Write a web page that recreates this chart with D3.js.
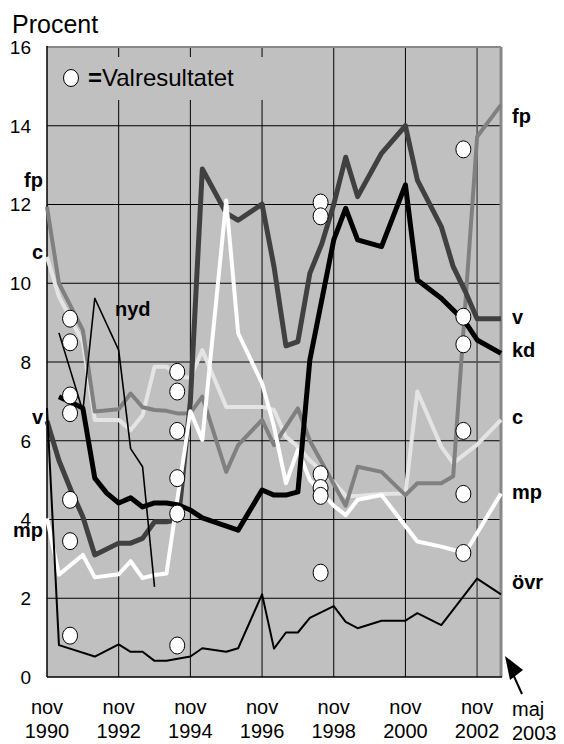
<!DOCTYPE html>
<html>
<head>
<meta charset="utf-8">
<script src="https://cdn.jsdelivr.net/npm/d3@7"></script>
<style>
  body { margin: 0; background: #fff; }
  svg { display: block; font-family: "Liberation Sans", Arial, Helvetica, sans-serif; }
</style>
</head>
<body>
<div id="chart"></div>
<script>
// Mätningar ungefär var fjärde månad, index 0 = nov 1990, index 38 = maj 2003
const xTickIndex = [0, 6, 12, 18, 24, 30, 36];
const xTickYears = ["1990", "1992", "1994", "1996", "1998", "2000", "2002"];
const yTicks = [0, 2, 4, 6, 8, 10, 12, 14, 16];

// Opinionssiffror per mätning (null = ingen brytpunkt i diagrammet)
const fp = [11.94, 10.0, null, 8.81, 6.74, null, 6.8, 7.2, 6.85, 6.78, 6.76, 6.69, 6.7,
  7.12, null, 5.21, 5.89, null, 6.53, 5.89, null, 6.82, 6.0, null, 4.9, 4.35, 5.34,
  null, 5.21, null, 4.62, 4.92, null, 4.92, 5.1, null, 13.72, null, 14.53];
const c = [10.67, 9.66, null, 8.5, 6.53, null, 6.53, 6.27, 6.65, 7.88, 7.88, 7.63, 7.6,
  8.3, null, 6.86, null, null, 6.86, 6.78, 6.1, 5.85, 5.5, null, 4.95, 4.6, 4.6,
  null, 4.65, null, 4.66, 7.25, null, 5.85, 5.43, null, 5.9, null, 6.53];
const mp = [4.03, 2.6, null, 3.1, 2.53, null, 2.61, 2.94, 2.51, 2.59, 2.63, null, 6.75,
  6.02, null, 12.1, 8.73, null, 7.46, 6.36, 4.92, 5.77, 5.0, null, 4.35, 4.11, 4.5,
  null, 4.62, null, null, 3.44, null, 3.31, null, 3.15, null, null, 4.66];
const v = [6.5, 5.5, 4.75, 4.07, 3.1, null, 3.4, 3.4, 3.52, 3.94, 3.94, 4.0, 7.0,
  12.9, null, 11.78, 11.6, null, 12.01, 10.42, 8.41, 8.52, 10.25, 11.0, 12.0, 13.2, 12.2,
  null, 13.3, null, 14.0, 12.62, null, 11.44, 10.42, 9.8, 9.1, null, 9.1];
const kd = [null, 7.12, null, 6.83, 5.05, 4.67, 4.42, 4.55, 4.32, 4.42, 4.42, 4.37, 4.24,
  4.04, null, null, 3.73, null, 4.75, 4.62, 4.62, 4.7, 8.05, null, 11.1, 11.9, 11.1,
  null, 10.93, null, 12.5, 10.08, null, 9.62, null, 9.02, 8.56, null, 8.22];
const nyd = [null, 8.74, null, 6.75, 9.62, null, 8.3, 5.8, 5.34, 2.29];
const ovr = [6.83, 0.81, null, null, 0.52, null, 0.83, 0.64, 0.64, 0.41, 0.41, null, 0.52,
  0.73, null, 0.64, 0.73, null, 2.1, 0.72, 1.13, 1.13, 1.5, null, 1.8, 1.4, 1.24,
  null, 1.43, null, 1.43, 1.62, null, 1.32, null, null, 2.5, null, 2.1];

// Valresultat (cirklar): läge på tidsaxeln och värden
const valIndex = [1.93, 10.9, 22.9, 34.85];
const valResultat = [
  [9.1, 8.5, 7.15, 6.7, 4.5, 3.45, 1.05],
  [7.75, 7.25, 6.25, 5.05, 4.15, 0.8],
  [12.05, 11.7, 5.15, 4.8, 4.6, 2.65],
  [13.4, 9.15, 8.45, 6.25, 4.65, 3.15],
];

const WIDTH = 564;
const HEIGHT = 744;
const margin = { top: 47, right: 63, bottom: 67, left: 47 };
const plotW = WIDTH - margin.left - margin.right;
const plotH = HEIGHT - margin.top - margin.bottom;

const svg = d3
  .select("#chart")
  .append("svg")
  .attr("width", WIDTH)
  .attr("height", HEIGHT);

const x = d3.scaleLinear().domain([0, 38]).range([margin.left, margin.left + plotW]);
const y = d3.scaleLinear().domain([0, 16]).range([margin.top + plotH, margin.top]);

// Plot background
svg
  .append("rect")
  .attr("x", x(0))
  .attr("y", y(16))
  .attr("width", x(38) - x(0))
  .attr("height", y(0) - y(16))
  .attr("fill", "#c0c0c0");

// Horizontal gridlines
svg
  .selectAll(".hgrid")
  .data(yTicks.filter((d) => d > 0 && d < 16))
  .enter()
  .append("line")
  .attr("x1", x(0))
  .attr("x2", x(38))
  .attr("y1", (d) => y(d))
  .attr("y2", (d) => y(d))
  .attr("stroke", "#000")
  .attr("stroke-width", 1);

// Vertical gridlines (nov 2002 is a gray one)
svg
  .selectAll(".vgrid")
  .data(xTickIndex.filter((d) => d > 0))
  .enter()
  .append("line")
  .attr("x1", (d) => x(d))
  .attr("x2", (d) => x(d))
  .attr("y1", y(0))
  .attr("y2", y(16))
  .attr("stroke", (d) => (d === 36 ? "#555" : "#000"))
  .attr("stroke-width", (d) => (d === 36 ? 1.5 : 1));

// Legend box covers the gridlines
svg
  .append("rect")
  .attr("x", x(0) + 1)
  .attr("y", 57)
  .attr("width", 250)
  .attr("height", 43)
  .attr("fill", "#c0c0c0");

svg
  .append("ellipse")
  .attr("cx", 71)
  .attr("cy", 78)
  .attr("rx", 7.5)
  .attr("ry", 8.5)
  .attr("fill", "#fff")
  .attr("stroke", "#000")
  .attr("stroke-width", 1);

const legendText = svg
  .append("text")
  .attr("x", 88)
  .attr("y", 86)
  .attr("font-size", 24)
  .attr("fill", "#000");
legendText.append("tspan").attr("font-weight", "bold").text("=");
legendText.append("tspan").text("Valresultatet");

// Border: gray top/right, black left/bottom
svg
  .append("line")
  .attr("x1", x(0)).attr("x2", x(38))
  .attr("y1", y(16)).attr("y2", y(16))
  .attr("stroke", "#888").attr("stroke-width", 2);
svg
  .append("line")
  .attr("x1", x(38)).attr("x2", x(38))
  .attr("y1", y(16)).attr("y2", y(0))
  .attr("stroke", "#888").attr("stroke-width", 3);
svg
  .append("line")
  .attr("x1", x(0)).attr("x2", x(0))
  .attr("y1", y(16) - 1).attr("y2", y(0))
  .attr("stroke", "#000").attr("stroke-width", 1.5);
svg
  .append("line")
  .attr("x1", x(0)).attr("x2", x(38) + 1)
  .attr("y1", y(0)).attr("y2", y(0))
  .attr("stroke", "#000").attr("stroke-width", 1.5);

// Series lines
const series = [
  { values: c, color: "#e4e4e4", width: 4 },
  { values: fp, color: "#808080", width: 4 },
  { values: v, color: "#404040", width: 5 },
  { values: mp, color: "#ffffff", width: 4 },
  { values: kd, color: "#000000", width: 5 },
  { values: nyd, color: "#000000", width: 1.6 },
  { values: ovr, color: "#000000", width: 2 },
];

const line = d3
  .line()
  .x((d) => x(d.i))
  .y((d) => y(d.value));

series.forEach((s) => {
  const pts = s.values
    .map((value, i) => ({ i, value }))
    .filter((d) => d.value !== null);
  svg
    .append("path")
    .datum(pts)
    .attr("d", line)
    .attr("fill", "none")
    .attr("stroke", s.color)
    .attr("stroke-width", s.width)
    .attr("stroke-linejoin", "round");
});

// Election result circles
valIndex.forEach((pos, k) => {
  svg
    .selectAll(".val" + k)
    .data(valResultat[k])
    .enter()
    .append("ellipse")
    .attr("cx", x(pos))
    .attr("cy", (d) => y(d))
    .attr("rx", 7.5)
    .attr("ry", 8.5)
    .attr("fill", "#fff")
    .attr("stroke", "#000")
    .attr("stroke-width", 1);
});

// Y tick labels
svg
  .selectAll(".ylab")
  .data(yTicks)
  .enter()
  .append("text")
  .attr("x", 31)
  .attr("y", (d) => y(d))
  .attr("dy", "0.36em")
  .attr("text-anchor", "end")
  .attr("font-size", 19)
  .text((d) => d);

svg
  .append("text")
  .attr("x", 12)
  .attr("y", 33)
  .attr("font-size", 25)
  .text("Procent");

// X tick labels
xTickIndex.forEach((d, k) => {
  svg.append("text").attr("x", x(d)).attr("y", 714).attr("text-anchor", "middle")
    .attr("font-size", 20).text("nov");
  svg.append("text").attr("x", x(d)).attr("y", 738).attr("text-anchor", "middle")
    .attr("font-size", 20).text(xTickYears[k]);
});
svg.append("text").attr("x", 512).attr("y", 716).attr("font-size", 20).text("maj");
svg.append("text").attr("x", 512).attr("y", 740).attr("font-size", 20).text("2003");

// Arrow pointing at maj 2003
svg
  .append("line")
  .attr("x1", 522).attr("y1", 694)
  .attr("x2", 512).attr("y2", 672)
  .attr("stroke", "#000").attr("stroke-width", 2);
svg
  .append("path")
  .attr("d", "M505,656 L523,670 L510,680 Z")
  .attr("fill", "#000");

// Party labels
const labelsRight = [
  ["fp", 14.25], ["v", 9.15], ["kd", 8.3], ["c", 6.61], ["mp", 4.71], ["övr", 2.42],
];
const labelsLeft = [["fp", 12.62], ["c", 10.8], ["v", 6.61], ["mp", 3.73]];

svg
  .selectAll(".lr")
  .data(labelsRight)
  .enter()
  .append("text")
  .attr("x", 512)
  .attr("y", (d) => y(d[1]))
  .attr("dy", "0.35em")
  .attr("font-size", 20)
  .attr("font-weight", "bold")
  .text((d) => d[0]);

svg
  .selectAll(".ll")
  .data(labelsLeft)
  .enter()
  .append("text")
  .attr("x", 43)
  .attr("y", (d) => y(d[1]))
  .attr("dy", "0.35em")
  .attr("text-anchor", "end")
  .attr("font-size", 20)
  .attr("font-weight", "bold")
  .text((d) => d[0]);

svg
  .append("text")
  .attr("x", 115)
  .attr("y", y(9.35))
  .attr("dy", "0.35em")
  .attr("font-size", 20)
  .attr("font-weight", "bold")
  .text("nyd");
</script>
</body>
</html>
